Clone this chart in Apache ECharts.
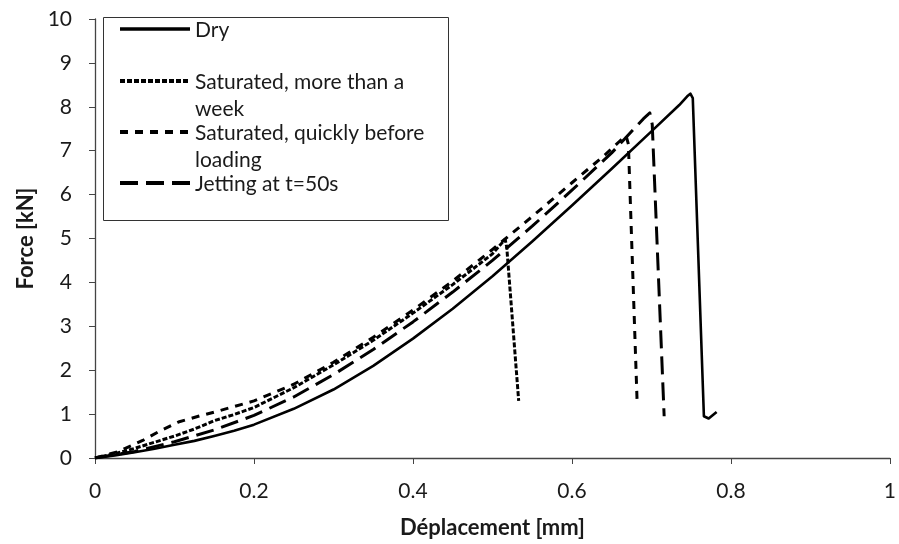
<!DOCTYPE html>
<html>
<head>
<meta charset="utf-8">
<script src="https://cdn.jsdelivr.net/npm/echarts@6/dist/echarts.min.js"></script>
<style>
html,body{margin:0;padding:0;background:#fff;}
#chart{width:899px;height:544px;}
</style>
</head>
<body>
<div id="chart"></div>
<script>
// Data (x: displacement mm, y: force kN)
const seriesNames = ["Dry", "Saturated, more than a week", "Saturated, quickly before loading", "Jetting at t=50s"];
const dry = [[0,0],[0.025,0.06],[0.05,0.13],[0.075,0.21],[0.1,0.3],[0.125,0.39],[0.15,0.5],[0.175,0.62],[0.2,0.76],[0.25,1.12],[0.3,1.56],[0.35,2.1],[0.4,2.72],[0.45,3.4],[0.5,4.14],[0.55,4.93],[0.6,5.75],[0.65,6.59],[0.7,7.44],[0.735,8.04],[0.745,8.24],[0.749,8.3],[0.752,8.2],[0.766,0.95],[0.772,0.9],[0.782,1.05]];
const satWeek = [[0,0],[0.025,0.1],[0.05,0.22],[0.075,0.36],[0.1,0.5],[0.125,0.66],[0.15,0.85],[0.175,0.99],[0.2,1.15],[0.25,1.6],[0.3,2.12],[0.35,2.68],[0.4,3.3],[0.45,3.95],[0.5,4.65],[0.512,4.9],[0.516,4.98],[0.518,4.8],[0.533,1.3]];
const satQuick = [[0,0],[0.03,0.15],[0.06,0.4],[0.08,0.6],[0.105,0.82],[0.13,0.95],[0.155,1.07],[0.2,1.3],[0.25,1.68],[0.3,2.18],[0.35,2.75],[0.4,3.37],[0.45,4.03],[0.5,4.75],[0.55,5.5],[0.6,6.27],[0.64,6.88],[0.662,7.25],[0.668,7.35],[0.671,7.15],[0.682,1.27]];
const jetting = [[0,0],[0.05,0.15],[0.1,0.37],[0.15,0.64],[0.2,0.97],[0.25,1.39],[0.3,1.9],[0.35,2.47],[0.4,3.1],[0.45,3.78],[0.5,4.5],[0.55,5.28],[0.6,6.1],[0.65,6.95],[0.69,7.73],[0.698,7.86],[0.701,7.6],[0.716,0.95]];
const xTicks = {min: 0, max: 1, interval: 0.2};
const yTicks = {min: 0, max: 10, interval: 1};
const xTitle = "Déplacement [mm]";
const yTitle = "Force [kN]";

const FONT = "Lato, 'Open Sans', sans-serif";
const dashes = [null, [5, 2], [8, 7], [18, 8]];
const widths = [2.6, 3, 3, 3];
const allData = [dry, satWeek, satQuick, jetting];

const chart = echarts.init(document.getElementById('chart'), null, {renderer: 'canvas'});

const series = allData.map((d, i) => ({
  name: seriesNames[i],
  type: 'line',
  data: d,
  showSymbol: false,
  symbol: 'none',
  smooth: false,
  lineStyle: {color: '#000', width: widths[i], type: dashes[i] || 'solid', cap: 'butt', join: 'round'},
  z: 4 - i
}));

// Custom legend (boxed, with wrapped labels)
const legX = 120, legTextX = 195;
const legRows = [
  {y: 29, lines: ["Dry"]},
  {y: 81, lines: ["Saturated, more than a", "week"]},
  {y: 132, lines: ["Saturated, quickly before", "loading"]},
  {y: 183, lines: ["Jetting at t=50s"]}
];
const graphics = [{
  type: 'rect', left: 103, top: 17, shape: {width: 345, height: 203},
  style: {fill: '#fff', stroke: '#333', lineWidth: 1}, z: 10
}];
legRows.forEach((r, i) => {
  graphics.push({
    type: 'line', shape: {x1: legX, y1: r.y, x2: legX + 70, y2: r.y},
    style: {stroke: '#000', lineWidth: widths[i] + 1, lineDash: dashes[i] || null}, z: 11
  });
  r.lines.forEach((t, k) => {
    graphics.push({
      type: 'text', x: legTextX, y: r.y + 1 + k * 27,
      style: {text: t, font: "21px " + FONT, fill: '#1a1a1a', verticalAlign: 'middle', align: 'left'}, z: 11
    });
  });
});

chart.setOption({
  animation: false,
  backgroundColor: '#fff',
  grid: {left: 95, right: 5, top: 19, bottom: 85, containLabel: false},
  xAxis: {
    type: 'value', min: xTicks.min, max: xTicks.max, interval: xTicks.interval,
    name: xTitle, nameLocation: 'middle', nameGap: 59,
    nameTextStyle: {fontFamily: FONT, fontSize: 22, fontWeight: 'bold', color: '#1a1a1a'},
    axisLine: {show: true, lineStyle: {color: '#444', width: 1.3}},
    axisTick: {show: true, inside: false, length: 6, lineStyle: {color: '#444'}},
    axisLabel: {fontFamily: FONT, fontSize: 21, color: '#1a1a1a', margin: 23},
    splitLine: {show: false}
  },
  yAxis: {
    type: 'value', min: yTicks.min, max: yTicks.max, interval: yTicks.interval,
    name: yTitle, nameLocation: 'middle', nameGap: 57, nameRotate: 90,
    nameTextStyle: {fontFamily: FONT, fontSize: 22, fontWeight: 'bold', color: '#1a1a1a'},
    axisLine: {show: true, lineStyle: {color: '#444', width: 1.3}},
    axisTick: {show: true, inside: false, length: 6, lineStyle: {color: '#444'}},
    axisLabel: {fontFamily: FONT, fontSize: 21, color: '#1a1a1a', margin: 23},
    splitLine: {show: false}
  },
  legend: {show: false},
  series: series,
  graphic: graphics
});
</script>
</body>
</html>
